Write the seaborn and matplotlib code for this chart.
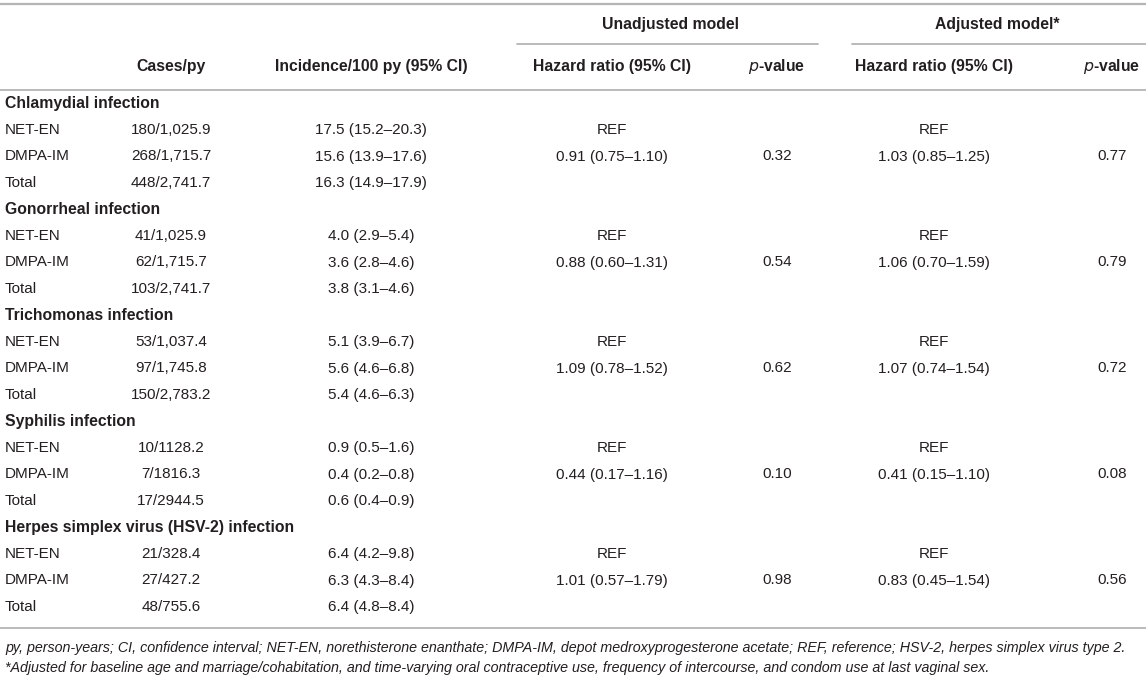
import matplotlib
matplotlib.use('Agg')
import matplotlib.pyplot as plt
import seaborn as sns

# Table data
groups = ['Chlamydial infection', 'Gonorrheal infection', 'Trichomonas infection',
          'Syphilis infection', 'Herpes simplex virus (HSV-2) infection']
arms = ['NET-EN', 'DMPA-IM', 'Total']
cases_py = [
    ['180/1,025.9', '268/1,715.7', '448/2,741.7'],
    ['41/1,025.9', '62/1,715.7', '103/2,741.7'],
    ['53/1,037.4', '97/1,745.8', '150/2,783.2'],
    ['10/1128.2', '7/1816.3', '17/2944.5'],
    ['21/328.4', '27/427.2', '48/755.6'],
]
incidence = [
    ['17.5 (15.2–20.3)', '15.6 (13.9–17.6)', '16.3 (14.9–17.9)'],
    ['4.0 (2.9–5.4)', '3.6 (2.8–4.6)', '3.8 (3.1–4.6)'],
    ['5.1 (3.9–6.7)', '5.6 (4.6–6.8)', '5.4 (4.6–6.3)'],
    ['0.9 (0.5–1.6)', '0.4 (0.2–0.8)', '0.6 (0.4–0.9)'],
    ['6.4 (4.2–9.8)', '6.3 (4.3–8.4)', '6.4 (4.8–8.4)'],
]
hr_unadj = ['0.91 (0.75–1.10)', '0.88 (0.60–1.31)', '1.09 (0.78–1.52)',
            '0.44 (0.17–1.16)', '1.01 (0.57–1.79)']
p_unadj = ['0.32', '0.54', '0.62', '0.10', '0.98']
hr_adj = ['1.03 (0.85–1.25)', '1.06 (0.70–1.59)', '1.07 (0.74–1.54)',
          '0.41 (0.15–1.10)', '0.83 (0.45–1.54)']
p_adj = ['0.77', '0.79', '0.72', '0.08', '0.56']

footnote1 = ('py, person-years; CI, confidence interval; NET-EN, norethisterone enanthate; '
             'DMPA-IM, depot medroxyprogesterone acetate; REF, reference; HSV-2, herpes simplex virus type 2.')
footnote2 = ('*Adjusted for baseline age and marriage/cohabitation, and time-varying oral '
             'contraceptive use, frequency of intercourse, and condom use at last vaginal sex.')

sns.set_theme(style='white')
plt.rcParams['font.family'] = ['Liberation Sans', 'DejaVu Sans']

W, H = 1146, 677
fig = plt.figure(figsize=(W / 100, H / 100), dpi=100)
ax = fig.add_axes([0, 0, 1, 1])
ax.set_xlim(0, W)
ax.set_ylim(H, 0)
ax.axis('off')

txt = '#231f20'
line_c = '#b4b4b4'
fs = 11        # body text
fsb = 11.3     # bold headers

# column centers
cx = {'cases': 171, 'inc': 371, 'hr1': 612, 'p1': 777, 'hr2': 934, 'p2': 1112}

# rules
ax.plot([0, W], [4, 4], color=line_c, lw=1.6)
ax.plot([517, 818], [44, 44], color=line_c, lw=1.3)
ax.plot([852, W], [44, 44], color=line_c, lw=1.3)
ax.plot([0, W], [90, 90], color=line_c, lw=1.3)
ax.plot([0, W], [628, 628], color=line_c, lw=1.3)

# headers
ax.text(670, 24, 'Unadjusted model', ha='center', va='center', fontsize=fsb, weight='bold', color=txt)
ax.text(997, 24, 'Adjusted model*', ha='center', va='center', fontsize=fsb, weight='bold', color=txt)
ax.text(cx['cases'], 67, 'Cases/py', ha='center', va='center', fontsize=fsb, weight='bold', color=txt)
ax.text(cx['inc'], 67, 'Incidence/100 py (95% CI)', ha='center', va='center', fontsize=fsb, weight='bold', color=txt)
ax.text(cx['hr1'], 67, 'Hazard ratio (95% CI)', ha='center', va='center', fontsize=fsb, weight='bold', color=txt)
ax.text(cx['hr2'], 67, 'Hazard ratio (95% CI)', ha='center', va='center', fontsize=fsb, weight='bold', color=txt)
for key in ['p1', 'p2']:
    ax.text(cx[key], 67, r'$\mathbf{\it{p}}$' + '-value', ha='center', va='center', fontsize=fsb,
            weight='bold', color=txt)

# body
y0, dy = 103.5, 26.5
row = 0
for g, grp in enumerate(groups):
    y = y0 + row * dy
    ax.text(5, y, grp, ha='left', va='center', fontsize=fsb, weight='bold', color=txt)
    row += 1
    for a, arm in enumerate(arms):
        y = y0 + row * dy
        ax.text(5, y, arm, ha='left', va='center', fontsize=fs, color=txt)
        ax.text(cx['cases'], y, cases_py[g][a], ha='center', va='center', fontsize=fs, color=txt)
        ax.text(cx['inc'], y, incidence[g][a], ha='center', va='center', fontsize=fs, color=txt)
        if a == 0:
            ax.text(cx['hr1'], y, 'REF', ha='center', va='center', fontsize=fs, color=txt)
            ax.text(cx['hr2'], y, 'REF', ha='center', va='center', fontsize=fs, color=txt)
        elif a == 1:
            ax.text(cx['hr1'], y, hr_unadj[g], ha='center', va='center', fontsize=fs, color=txt)
            ax.text(cx['p1'], y, p_unadj[g], ha='center', va='center', fontsize=fs, color=txt)
            ax.text(cx['hr2'], y, hr_adj[g], ha='center', va='center', fontsize=fs, color=txt)
            ax.text(cx['p2'], y, p_adj[g], ha='center', va='center', fontsize=fs, color=txt)
        row += 1

# footnotes
ax.text(5, 648, footnote1, ha='left', va='center', fontsize=10.3, style='italic', color=txt)
ax.text(5, 668, footnote2, ha='left', va='center', fontsize=10.3, style='italic', color=txt)

fig.savefig('out.png', dpi=100, facecolor='white')
